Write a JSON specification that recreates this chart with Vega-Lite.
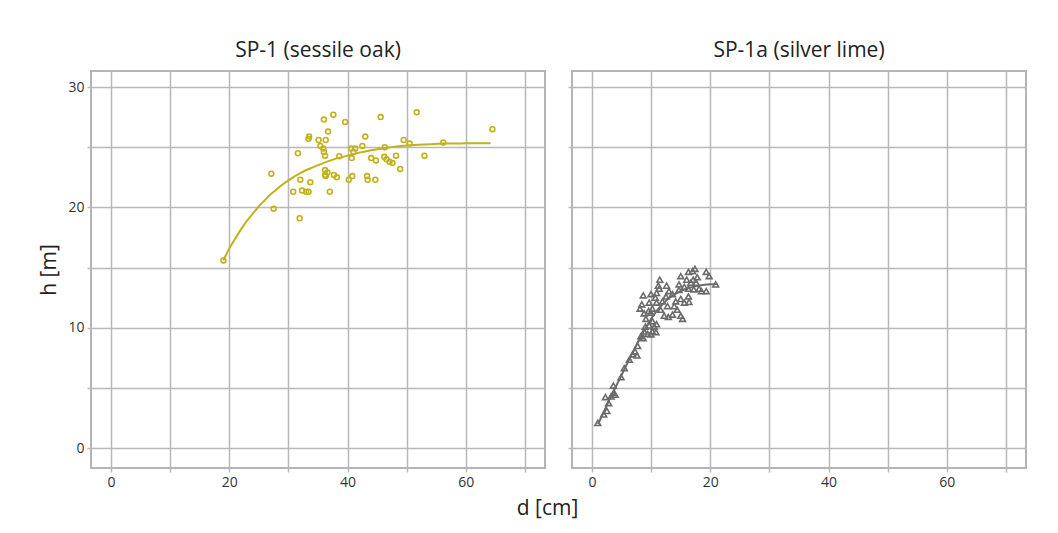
{
  "$schema": "https://vega.github.io/schema/vega-lite/v6.json",
  "background": "white",
  "padding": {"left": 37, "top": 39, "right": 5, "bottom": 5},
  "config": {
    "font": "Open Sans",
    "view": {"stroke": "#b4b4b8", "strokeWidth": 2},
    "axis": {
      "gridColor": "#b8b8bc", "gridWidth": 1.5, "tickColor": "#b8b8bc", "tickWidth": 1.5, "tickSize": 4,
      "domain": false, "labelFont": "Open Sans", "labelFontSize": 14, "labelColor": "#333333", "labelPadding": 3,
      "titleFont": "Open Sans", "titleFontSize": 21, "titleFontWeight": "normal", "titleColor": "#222222", "labelOverlap": false
    },
    "title": {"font": "Open Sans", "fontSize": 21, "fontWeight": "normal", "color": "#222222", "offset": 10},
    "concat": {"spacing": 20}
  },
  "title": {"text": "d [cm]", "orient": "bottom", "anchor": "middle", "offset": 8, "dx": 15, "fontSize": 21, "fontWeight": "normal", "font": "Open Sans", "color": "#222222"},
  "datasets": {
    "oak_points": [
      {"d": 19.0, "h": 15.6}, {"d": 27.1, "h": 22.8}, {"d": 27.5, "h": 19.9}, {"d": 31.6, "h": 24.5}, {"d": 31.9, "h": 19.1},
      {"d": 32.0, "h": 22.3}, {"d": 30.8, "h": 21.3}, {"d": 32.3, "h": 21.4}, {"d": 33.0, "h": 21.3}, {"d": 33.4, "h": 21.3},
      {"d": 33.7, "h": 22.1}, {"d": 33.5, "h": 25.9}, {"d": 33.4, "h": 25.7}, {"d": 35.1, "h": 25.6}, {"d": 36.0, "h": 27.3},
      {"d": 37.6, "h": 27.7}, {"d": 36.7, "h": 26.3}, {"d": 36.3, "h": 25.6}, {"d": 35.4, "h": 25.1}, {"d": 35.9, "h": 24.9},
      {"d": 36.0, "h": 24.6}, {"d": 36.2, "h": 24.3}, {"d": 36.2, "h": 23.1}, {"d": 36.6, "h": 22.9}, {"d": 36.2, "h": 22.7},
      {"d": 36.3, "h": 22.6}, {"d": 37.7, "h": 22.7}, {"d": 38.2, "h": 22.5}, {"d": 37.0, "h": 21.3}, {"d": 38.6, "h": 24.25},
      {"d": 39.6, "h": 27.1}, {"d": 40.6, "h": 24.9}, {"d": 41.3, "h": 24.9}, {"d": 41.0, "h": 24.6}, {"d": 40.7, "h": 24.1},
      {"d": 40.2, "h": 22.3}, {"d": 40.8, "h": 22.6}, {"d": 42.5, "h": 25.1}, {"d": 43.0, "h": 25.9}, {"d": 45.6, "h": 27.5},
      {"d": 44.0, "h": 24.1}, {"d": 44.8, "h": 23.9}, {"d": 43.3, "h": 22.6}, {"d": 43.4, "h": 22.3}, {"d": 44.7, "h": 22.3},
      {"d": 46.3, "h": 25.0}, {"d": 46.2, "h": 24.2}, {"d": 46.6, "h": 24.0}, {"d": 47.1, "h": 23.8}, {"d": 47.6, "h": 23.7},
      {"d": 48.2, "h": 24.3}, {"d": 48.9, "h": 23.2}, {"d": 49.5, "h": 25.6}, {"d": 50.5, "h": 25.3}, {"d": 51.7, "h": 27.9},
      {"d": 53.0, "h": 24.3}, {"d": 56.2, "h": 25.4}, {"d": 64.5, "h": 26.5}
    ],
    "oak_curve": [
      {"d": 19, "h": 15.6}, {"d": 20, "h": 16.6}, {"d": 21, "h": 17.4}, {"d": 22, "h": 18.2}, {"d": 23, "h": 18.9},
      {"d": 24, "h": 19.5}, {"d": 25, "h": 20.1}, {"d": 26, "h": 20.6}, {"d": 27, "h": 21.1}, {"d": 28, "h": 21.5},
      {"d": 29, "h": 21.9}, {"d": 30, "h": 22.25}, {"d": 32, "h": 22.85}, {"d": 34, "h": 23.3}, {"d": 36, "h": 23.7},
      {"d": 38, "h": 24.05}, {"d": 40, "h": 24.3}, {"d": 42, "h": 24.55}, {"d": 44, "h": 24.75}, {"d": 46, "h": 24.9},
      {"d": 48, "h": 25.05}, {"d": 50, "h": 25.15}, {"d": 52, "h": 25.2}, {"d": 54, "h": 25.25}, {"d": 56, "h": 25.3},
      {"d": 58, "h": 25.3}, {"d": 60, "h": 25.32}, {"d": 62, "h": 25.33}, {"d": 64.2, "h": 25.33}
    ],
    "lime_points": [
      {"d": 0.96, "h": 2.1}, {"d": 1.97, "h": 2.8}, {"d": 2.5, "h": 3.1}, {"d": 2.8, "h": 3.75}, {"d": 2.25, "h": 4.25},
      {"d": 3.2, "h": 4.3}, {"d": 3.65, "h": 4.6}, {"d": 3.9, "h": 4.45}, {"d": 3.6, "h": 5.2}, {"d": 4.9, "h": 5.9},
      {"d": 5.45, "h": 6.65}, {"d": 6.3, "h": 7.35}, {"d": 6.85, "h": 7.8}, {"d": 7.25, "h": 8.05}, {"d": 7.7, "h": 8.5},
      {"d": 7.6, "h": 7.7}, {"d": 8.25, "h": 9.3}, {"d": 8.65, "h": 9.15}, {"d": 8.8, "h": 9.7}, {"d": 9.4, "h": 9.5},
      {"d": 9.95, "h": 9.45}, {"d": 10.2, "h": 9.7}, {"d": 10.8, "h": 9.65}, {"d": 9.0, "h": 10.1}, {"d": 9.65, "h": 10.2},
      {"d": 10.5, "h": 10.1}, {"d": 10.9, "h": 10.3}, {"d": 9.1, "h": 10.75}, {"d": 10.2, "h": 10.55}, {"d": 8.8, "h": 11.2},
      {"d": 9.55, "h": 11.4}, {"d": 9.95, "h": 11.25}, {"d": 8.1, "h": 11.6}, {"d": 8.4, "h": 11.95}, {"d": 8.65, "h": 12.7},
      {"d": 9.95, "h": 12.8}, {"d": 10.9, "h": 12.9}, {"d": 11.35, "h": 13.25}, {"d": 11.45, "h": 14.0}, {"d": 11.2, "h": 13.5},
      {"d": 11.9, "h": 12.2}, {"d": 12.5, "h": 12.6}, {"d": 12.6, "h": 13.5}, {"d": 13.0, "h": 13.05}, {"d": 13.6, "h": 12.8},
      {"d": 11.6, "h": 11.5}, {"d": 12.2, "h": 11.0}, {"d": 12.9, "h": 10.9}, {"d": 13.6, "h": 11.1}, {"d": 12.75, "h": 11.8},
      {"d": 13.9, "h": 11.8}, {"d": 14.4, "h": 11.5}, {"d": 15.0, "h": 11.0}, {"d": 15.3, "h": 10.75}, {"d": 14.15, "h": 12.2},
      {"d": 15.0, "h": 12.4}, {"d": 15.6, "h": 12.1}, {"d": 16.4, "h": 12.15}, {"d": 14.7, "h": 13.15}, {"d": 15.6, "h": 13.4},
      {"d": 14.7, "h": 13.6}, {"d": 15.0, "h": 14.3}, {"d": 16.0, "h": 14.0}, {"d": 16.3, "h": 14.65}, {"d": 17.0, "h": 14.7},
      {"d": 17.4, "h": 14.9}, {"d": 16.7, "h": 13.75}, {"d": 17.1, "h": 14.0}, {"d": 17.6, "h": 13.75}, {"d": 17.8, "h": 14.2},
      {"d": 16.3, "h": 13.25}, {"d": 17.2, "h": 13.2}, {"d": 18.1, "h": 13.25}, {"d": 18.5, "h": 13.05}, {"d": 19.3, "h": 13.05},
      {"d": 19.3, "h": 14.65}, {"d": 19.8, "h": 14.3}, {"d": 20.9, "h": 13.6}, {"d": 16.3, "h": 12.6}, {"d": 10.2, "h": 11.6},
      {"d": 9.65, "h": 12.1}, {"d": 10.9, "h": 12.1}, {"d": 10.7, "h": 12.5}
    ],
    "lime_curve": [
      {"d": 1, "h": 2.0}, {"d": 2, "h": 3.05}, {"d": 3, "h": 4.1}, {"d": 4, "h": 5.1}, {"d": 5, "h": 6.1},
      {"d": 6, "h": 7.1}, {"d": 7, "h": 8.1}, {"d": 8, "h": 9.05}, {"d": 9, "h": 9.95}, {"d": 10, "h": 10.75},
      {"d": 11, "h": 11.45}, {"d": 12, "h": 12.0}, {"d": 13, "h": 12.45}, {"d": 14, "h": 12.8}, {"d": 15, "h": 13.05},
      {"d": 16, "h": 13.25}, {"d": 17, "h": 13.4}, {"d": 18, "h": 13.5}, {"d": 19, "h": 13.57}, {"d": 20, "h": 13.62},
      {"d": 21.2, "h": 13.65}
    ]
  },
  "hconcat": [
    {
      "width": 454, "height": 397,
      "title": {"text": "SP-1 (sessile oak)"},
      "encoding": {
        "x": {"field": "d", "type": "quantitative", "scale": {"domain": [-3.4, 73.4], "nice": false, "zero": false},
              "axis": {"title": null, "values": [0, 10, 20, 30, 40, 50, 60, 70], "labelExpr": "datum.value % 20 === 0 ? datum.label : ''"}},
        "y": {"field": "h", "type": "quantitative", "scale": {"domain": [-1.64, 31.33], "nice": false, "zero": false},
              "axis": {"title": "h [m]", "titlePadding": 8, "values": [0, 5, 10, 15, 20, 25, 30], "labelExpr": "datum.value % 10 === 0 ? datum.label : ''"}}
      },
      "layer": [
        {"data": {"name": "oak_points"}, "mark": {"type": "point", "shape": "circle", "filled": false, "size": 24, "strokeWidth": 1.6, "color": "#c0b21b", "opacity": 1}},
        {"data": {"name": "oak_curve"}, "mark": {"type": "line", "interpolate": "monotone", "strokeWidth": 2, "color": "#c0b21b"}}
      ]
    },
    {
      "width": 454, "height": 397,
      "title": {"text": "SP-1a (silver lime)"},
      "encoding": {
        "x": {"field": "d", "type": "quantitative", "scale": {"domain": [-3.4, 73.4], "nice": false, "zero": false},
              "axis": {"title": null, "values": [0, 10, 20, 30, 40, 50, 60, 70], "labelExpr": "datum.value % 20 === 0 ? datum.label : ''"}},
        "y": {"field": "h", "type": "quantitative", "scale": {"domain": [-1.64, 31.33], "nice": false, "zero": false},
              "axis": {"title": null, "labels": false, "values": [0, 5, 10, 15, 20, 25, 30]}}
      },
      "layer": [
        {"data": {"name": "lime_points"}, "mark": {"type": "point", "shape": "triangle-up", "filled": false, "size": 34, "strokeWidth": 1.6, "color": "#6b6b6b", "opacity": 1}},
        {"data": {"name": "lime_curve"}, "mark": {"type": "line", "interpolate": "monotone", "strokeWidth": 2, "color": "#6b6b6b"}}
      ]
    }
  ]
}
